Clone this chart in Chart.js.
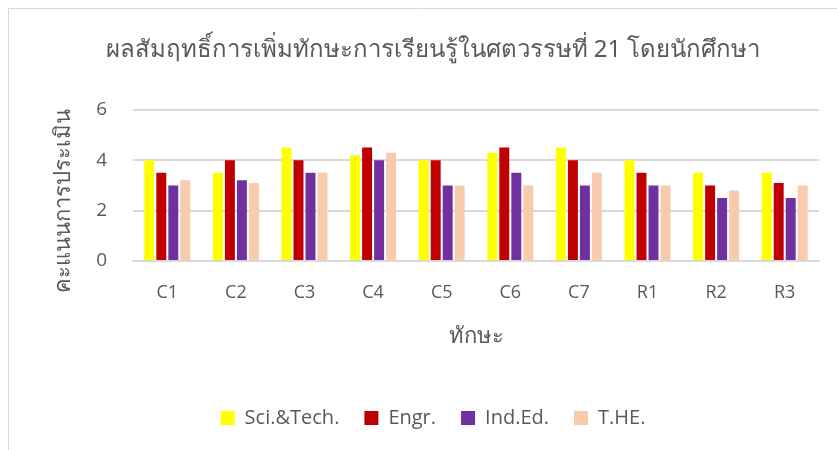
<!DOCTYPE html>
<html>
<head>
<meta charset="utf-8">
<script src="https://cdn.jsdelivr.net/npm/chart.js@4"></script>
<style>
html,body{margin:0;padding:0;background:#fff;}
#wrap{position:relative;width:837px;height:450px;}
</style>
</head>
<body>
<div id="wrap"><canvas id="c" width="837" height="450"></canvas></div>
<script>
const categories = ["C1","C2","C3","C4","C5","C6","C7","R1","R2","R3"];
const sciTech = [4.0, 3.5, 4.5, 4.2, 4.0, 4.3, 4.5, 4.0, 3.5, 3.5];
const engr    = [3.5, 4.0, 4.0, 4.5, 4.0, 4.5, 4.0, 3.5, 3.0, 3.1];
const indEd   = [3.0, 3.2, 3.5, 4.0, 3.0, 3.5, 3.0, 3.0, 2.5, 2.5];
const the     = [3.2, 3.1, 3.5, 4.3, 3.0, 3.0, 3.5, 3.0, 2.8, 3.0];
const seriesNames = ["Sci.&Tech.", "Engr.", "Ind.Ed.", "T.HE."];
const yTicks = [0, 2, 4, 6];
const titleText = "ผลสัมฤทธิ์การเพิ่มทักษะการเรียนรู้ในศตวรรษที่ 21 โดยนักศึกษา";
const xTitle = "ทักษะ";
const yTitle = "คะแนนการประเมิน";

const TXT = "#595959";
const FONT = '"Noto Sans", "Open Sans", sans-serif';

const framePlugin = {
  id: 'frame',
  beforeDraw(chart) {
    const ctx = chart.ctx;
    ctx.save();
    ctx.fillStyle = '#fff';
    ctx.fillRect(0, 0, chart.width, chart.height);
    ctx.strokeStyle = '#d9d9d9';
    ctx.lineWidth = 1;
    ctx.beginPath();
    ctx.moveTo(8.5, chart.height);
    ctx.lineTo(8.5, 8.5);
    ctx.lineTo(chart.width, 8.5);
    ctx.stroke();
    ctx.restore();
  }
};

// y-axis title, placed like the reference (slightly below the plot centre)
const yTitlePlugin = {
  id: 'yTitle',
  afterDraw(chart) {
    const ctx = chart.ctx;
    const a = chart.chartArea;
    ctx.save();
    ctx.translate(chart.scales.y.left + 17, (a.top + a.bottom) / 2 + 16);
    ctx.rotate(-Math.PI / 2);
    ctx.fillStyle = TXT;
    ctx.font = '22px ' + FONT;
    ctx.textAlign = 'center';
    ctx.textBaseline = 'middle';
    ctx.fillText(yTitle, 0, 0);
    ctx.restore();
  }
};

const mk = (label, data, color) => ({
  label, data, backgroundColor: color, borderWidth: 0,
  barPercentage: 0.83, categoryPercentage: 0.70
});

new Chart(document.getElementById('c'), {
  type: 'bar',
  data: {
    labels: categories,
    datasets: [
      mk(seriesNames[0], sciTech, '#FFFF00'),
      mk(seriesNames[1], engr, '#C00000'),
      mk(seriesNames[2], indEd, '#7030A0'),
      mk(seriesNames[3], the, '#F8CBAD')
    ]
  },
  options: {
    responsive: false,
    animation: false,
    devicePixelRatio: 1,
    layout: { padding: { left: 47, right: 18, top: 0, bottom: 12 } },
    plugins: {
      tooltip: { enabled: false },
      title: {
        display: true, text: titleText, color: TXT,
        font: { family: FONT, size: 24, weight: 'normal' },
        padding: { top: 36, bottom: 45 }
      },
      legend: {
        position: 'bottom',
        labels: {
          color: TXT, boxWidth: 14, boxHeight: 14, padding: 25,
          font: { family: '"Open Sans", sans-serif', size: 20 }
        }
      }
    },
    scales: {
      x: {
        afterFit(scale) { scale.height = 122; },
        grid: { display: false, drawTicks: false },
        border: { display: true, color: '#d9d9d9', width: 2 },
        ticks: { color: TXT, font: { family: '"Open Sans", sans-serif', size: 18 }, padding: 21 },
        title: { display: true, text: xTitle, color: TXT, font: { family: FONT, size: 22 }, padding: { top: 0, bottom: 33 } }
      },
      y: {
        min: 0, max: 6,
        afterBuildTicks(scale) { scale.ticks = yTicks.map(v => ({ value: v })); },
        afterFit(scale) { scale.width = 86; },
        grid: { color: '#d9d9d9', lineWidth: 2, drawTicks: false },
        border: { display: false },
        ticks: { color: TXT, font: { family: '"Open Sans", sans-serif', size: 19 }, padding: 26 },
        title: { display: false, text: yTitle }
      }
    }
  },
  plugins: [framePlugin, yTitlePlugin]
});
</script>
</body>
</html>
